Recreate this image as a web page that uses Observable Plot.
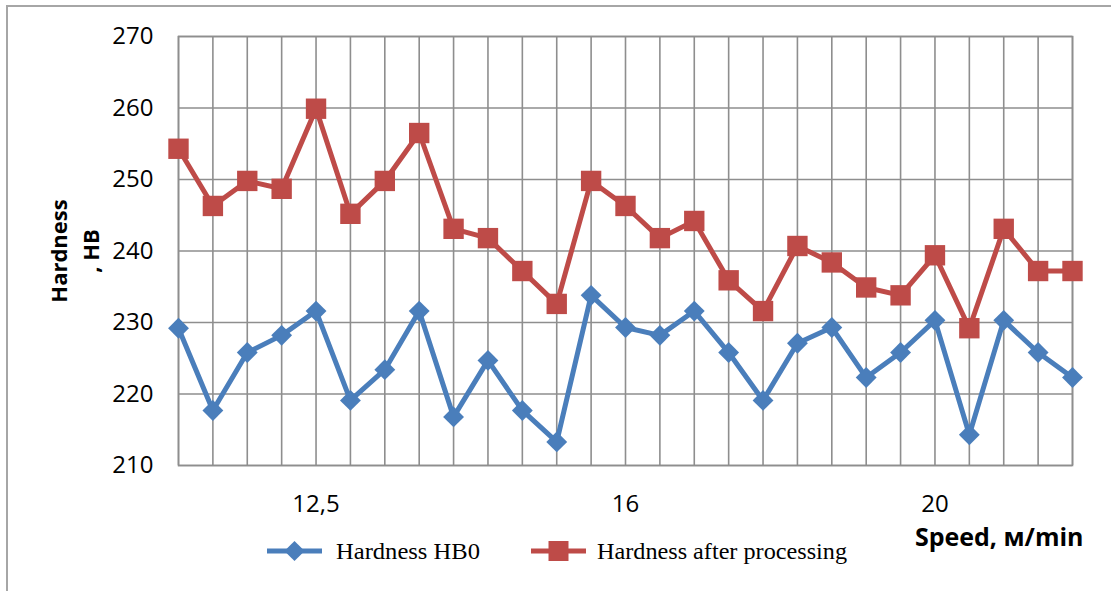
<!DOCTYPE html>
<html>
<head>
<meta charset="utf-8">
<script src="https://cdn.jsdelivr.net/npm/d3@7"></script>
<script src="https://cdn.jsdelivr.net/npm/@observablehq/plot@0.6"></script>
<style>
  body { margin: 0; background: #fff; }
  #wrap { position: relative; width: 1111px; height: 591px; overflow: hidden; background: #fff; }
  #border { position: absolute; left: 6px; top: 5px; width: 1300px; height: 800px; border: 2px solid #a6a6a6; box-sizing: border-box; }
  #chart { position: absolute; left: 0; top: 0; }
  #legend { position: absolute; left: 0; top: 0; pointer-events: none; }
</style>
</head>
<body>
<div id="wrap">
  <div id="border"></div>
  <div id="chart"></div>
  <svg id="legend" width="1111" height="591"></svg>
</div>
<script>
// ---- data ----
const seriesNames = ["Hardness HB0", "Hardness after processing"];
const seriesColors = ["#4a7ebb", "#be4b48"];
const hardnessHB0 = [229.2, 217.7, 225.8, 228.2, 231.6, 219.1, 223.4, 231.6, 216.8, 224.7,
                     217.7, 213.3, 233.8, 229.3, 228.2, 231.6, 225.8, 219.1, 227.1, 229.3,
                     222.3, 225.8, 230.3, 214.3, 230.3, 225.8, 222.3];
const hardnessAfter = [254.3, 246.3, 249.8, 248.7, 259.9, 245.2, 249.8, 256.5, 243.1, 241.8,
                       237.2, 232.6, 249.8, 246.3, 241.8, 244.2, 235.9, 231.6, 240.7, 238.4,
                       234.9, 233.8, 239.4, 229.2, 243.1, 237.2, 237.2];
const xTickIndex = [4, 13, 22];
const xTickLabels = ["12,5", "16", "20"];
const yTicks = [210, 220, 230, 240, 250, 260, 270];
const yTitle = "Hardness\n, HB";
const xTitle = "Speed, м/min";

// ---- build table ----
const idx = d3.range(hardnessHB0.length);
const rows = [];
hardnessHB0.forEach((v, i) => rows.push({i, v, s: seriesNames[0]}));
hardnessAfter.forEach((v, i) => rows.push({i, v, s: seriesNames[1]}));
const rowsA = rows.filter(d => d.s === seriesNames[0]);
const rowsB = rows.filter(d => d.s === seriesNames[1]);

const gridColor = "#8e8e8e";
const font = "'Open Sans', sans-serif";

const chart = Plot.plot({
  width: 1111,
  height: 591,
  marginLeft: 178,
  marginRight: 39,
  marginTop: 36,
  marginBottom: 126,
  style: { background: "transparent", fontFamily: font, color: "#000" },
  x: { type: "linear", domain: [0, idx.length - 1] },
  y: { domain: [210, 270] },
  color: { domain: seriesNames, range: seriesColors },
  marks: [
    Plot.gridX(idx, { stroke: gridColor, strokeOpacity: 1, strokeWidth: 1.6 }),
    Plot.gridY(yTicks, { stroke: gridColor, strokeOpacity: 1, strokeWidth: 1.6 }),
    Plot.frame({ stroke: gridColor, strokeWidth: 1.6 }),
    Plot.axisY(yTicks, { tickSize: 0, tickPadding: 25, fontSize: 24, label: null }),
    Plot.axisX(xTickIndex, { tickSize: 0, tickPadding: 29, fontSize: 24, label: null,
      tickFormat: d => xTickLabels[xTickIndex.indexOf(d)] }),
    Plot.text([yTitle], { frameAnchor: "left", rotate: -90, dx: -106, dy: 0,
      fontSize: 22, fontWeight: "bold", lineHeight: 1.45, textAnchor: "middle" }),
    Plot.text([xTitle], { frameAnchor: "bottom-right", dx: 11, dy: 80, textAnchor: "end",
      fontSize: 25, fontWeight: "bold" }),
    Plot.line(rows, { x: "i", y: "v", z: "s", stroke: "s", strokeWidth: 5, strokeLinejoin: "round" }),
    Plot.dot(rowsA, { x: "i", y: "v", fill: "s", symbol: "diamond2", r: 9.4, stroke: null }),
    Plot.dot(rowsB, { x: "i", y: "v", fill: "s", symbol: "square", r: 11.5, stroke: null })
  ]
});
document.getElementById("chart").appendChild(chart);

// ---- legend ----
const lg = d3.select("#legend");
const legendItems = [
  { name: seriesNames[0], color: seriesColors[0], x0: 267, x1: 322, sym: d3.symbolDiamond2, size: 260, tx: 336, tl: 144 },
  { name: seriesNames[1], color: seriesColors[1], x0: 531, x1: 586, sym: d3.symbolSquare, size: 400, tx: 597, tl: 250 }
];
const ly = 551;
legendItems.forEach(it => {
  lg.append("line").attr("x1", it.x0).attr("x2", it.x1).attr("y1", ly).attr("y2", ly)
    .attr("stroke", it.color).attr("stroke-width", 5);
  lg.append("path").attr("d", d3.symbol(it.sym, it.size)())
    .attr("transform", `translate(${(it.x0 + it.x1) / 2},${ly})`).attr("fill", it.color);
  lg.append("text").attr("x", it.tx).attr("y", ly + 8)
    .attr("font-family", "'Liberation Serif', 'Times New Roman', serif")
    .attr("font-size", 24).attr("textLength", it.tl).attr("lengthAdjust", "spacingAndGlyphs")
    .attr("fill", "#000").text(it.name);
});
</script>
</body>
</html>
